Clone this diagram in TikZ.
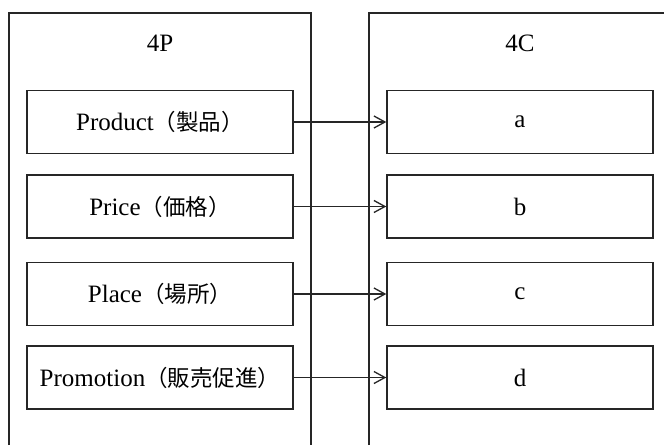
\documentclass[tikz,border=0pt]{standalone}
\usepackage{fontspec}
\setmainfont{Liberation Serif}
\newfontfamily\jp{Noto Sans CJK JP}
\usetikzlibrary{arrows.meta}
\tikzset{
  x=1pt, y=-1pt,
  frame/.style={line width=1.4pt, draw=black!85},
  item/.style={draw=black!85, line width=1.4pt, minimum width=266pt, minimum height=63pt,
    inner sep=0pt, font=\fontsize{25}{28}\selectfont, text=black},
  title/.style={font=\fontsize{25}{28}\selectfont, text=black},
  link/.style={line width=1.3pt, draw=black!85, -{Straight Barb[length=11pt,width=12pt,line width=1.3pt]}}
}
\newcommand\jpt[1]{{\jp\fontsize{22.5}{26}\selectfont #1}}
\begin{document}
\begin{tikzpicture}
\useasboundingbox[fill=white] (0,0) rectangle (664,445);
% outer frames (cut off by the picture edge)
\draw[frame] (9,445) -- (9,13) -- (311,13) -- (311,445);
\draw[frame] (369,445) -- (369,13) -- (664,13);
\node[title] (t4p) at (160,43) {4P};
\node[title] (t4c) at (520,43) {4C};
% left items
\node[item] (p1) at (160,122) {Product\jpt{（製品）}};
\node[item] (p2) at (160,206.5) {Price\jpt{（価格）}};
\node[item] (p3) at (160,294) {Place\jpt{（場所）}};
\node[item] (p4) at (160,377.5) {Promotion\jpt{（販売促進）}};
% right items
\node[item] (c1) at (520,122) {a};
\node[item] (c2) at (520,206.5) {b};
\node[item] (c3) at (520,294) {c};
\node[item] (c4) at (520,377.5) {d};
% connectors
\foreach \i in {1,...,4}{
  \draw[link] (p\i.east) -- (c\i.west);
}
\end{tikzpicture}
\end{document}
